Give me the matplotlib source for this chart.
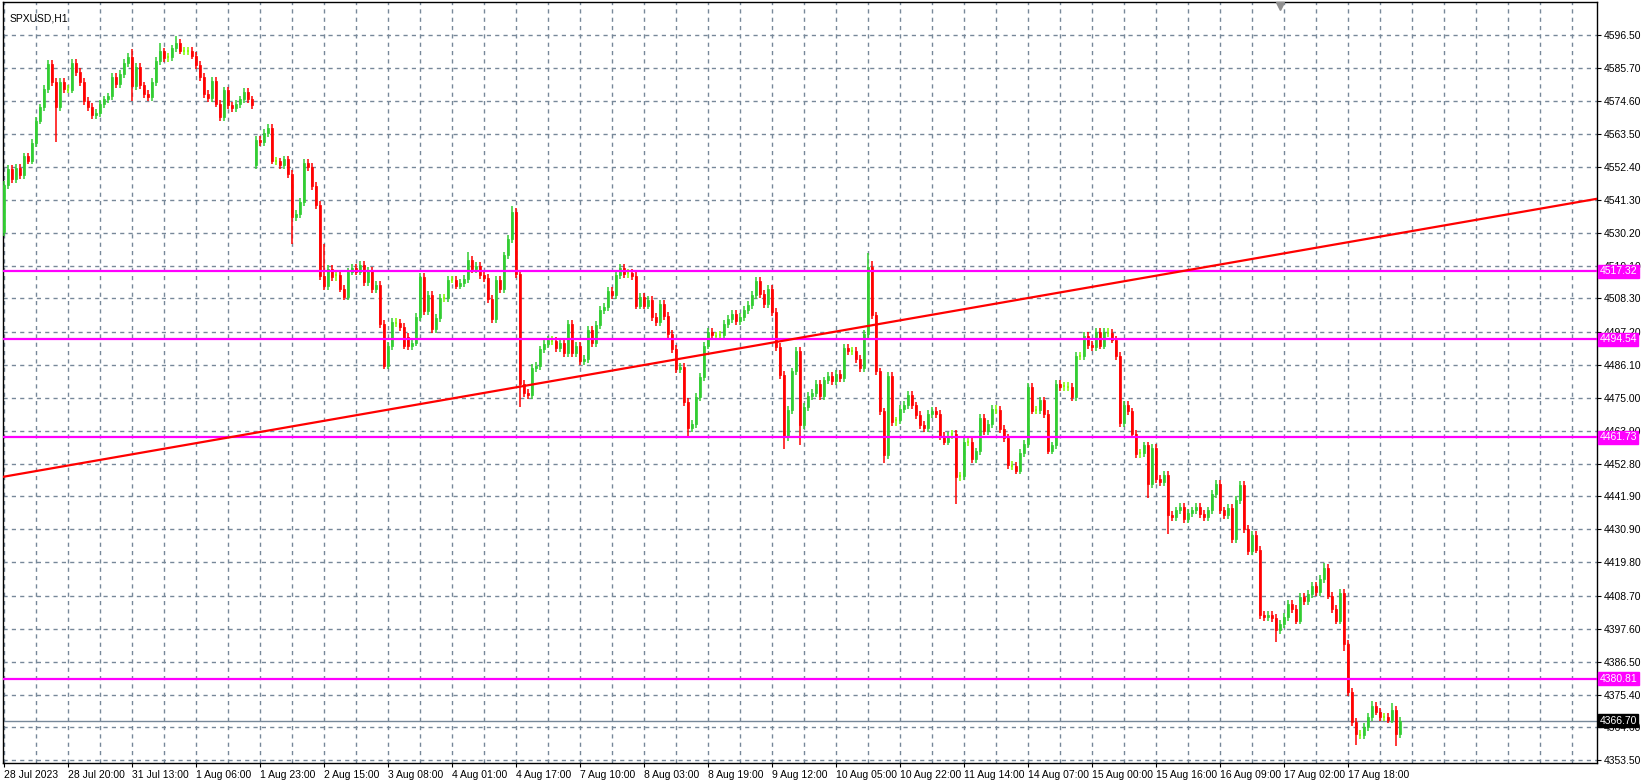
import matplotlib
matplotlib.use("Agg")
import matplotlib.pyplot as plt
from matplotlib.patches import Rectangle
from matplotlib.collections import PatchCollection, LineCollection

plt.rcParams['font.family'] = ['Liberation Sans', 'DejaVu Sans']

symbol = "SPXUSD,H1"
closes = [
4546.2,4551.8,4548.3,4551.9,4549.7,4555.9,4554.5,4560.4,4567.9,4572.3,
4578.6,4587.0,4580.8,4572.4,4580.8,4578.6,4578.3,4587.3,4584.2,4580.8,
4574.4,4572.4,4569.7,4570.4,4573.5,4575.0,4576.0,4582.5,4580.3,4583.6,
4587.3,4589.3,4579.5,4585.8,4579.7,4576.9,4575.7,4580.8,4588.0,4591.1,
4588.8,4589.1,4592.1,4593.9,4591.4,4591.1,4591.4,4589.7,4586.6,4582.5,
4576.9,4575.4,4581.3,4573.6,4569.1,4578.0,4573.0,4572.0,4573.5,4575.0,
4577.4,4575.0,4573.1,4561.5,4560.7,4563.8,4565.3,4554.5,4554.2,4552.9,
4554.9,4550.0,4535.5,4536.6,4540.6,4553.7,4552.3,4545.9,4539.5,4515.9,
4512.5,4518.2,4515.5,4516.0,4511.6,4508.9,4517.3,4518.4,4517.3,4519.6,
4513.7,4517.6,4511.4,4512.8,4499.8,4485.8,4492.3,4500.5,4500.0,4498.8,
4492.5,4492.4,4493.5,4502.0,4515.4,4504.2,4509.5,4498.1,4501.7,4508.4,
4508.4,4514.6,4514.6,4512.6,4513.5,4514.9,4521.2,4518.2,4519.3,4516.0,
4515.1,4508.2,4501.4,4514.6,4511.5,4522.7,4528.1,4537.2,4516.5,4479.7,
4476.7,4476.0,4484.9,4485.6,4491.2,4493.1,4494.4,4493.9,4491.6,4493.4,
4490.1,4499.8,4490.1,4492.5,4487.2,4488.0,4497.6,4493.4,4499.4,4504.3,
4505.4,4510.8,4509.5,4516.2,4518.4,4516.5,4516.8,4515.8,4505.9,4508.7,
4505.9,4507.8,4502.1,4500.3,4506.5,4502.4,4496.4,4491.4,4484.7,4485.3,
4473.5,4464.8,4466.3,4475.2,4481.9,4492.5,4497.2,4495.9,4495.6,4496.0,
4499.8,4501.4,4503.1,4500.6,4502.0,4504.3,4506.1,4509.5,4514.3,4509.8,
4506.5,4511.5,4503.7,4491.9,4482.7,4461.8,4471.0,4483.8,4490.8,4465.7,
4471.8,4475.5,4476.6,4479.7,4475.7,4480.8,4482.2,4480.5,4483.0,4481.6,
4491.6,4490.5,4490.8,4488.0,4484.9,4496.4,4518.8,4502.6,4483.8,4470.4,
4455.9,4482.2,4466.8,4467.4,4471.3,4472.6,4476.0,4472.4,4469.1,4465.9,
4464.8,4469.6,4470.7,4469.6,4462.1,4460.3,4462.3,4462.9,4448.4,4448.7,
4460.1,4460.3,4454.5,4457.0,4468.2,4463.7,4466.3,4471.3,4470.9,4464.6,
4461.5,4452.5,4452.1,4450.6,4456.5,4459.6,4478.5,4470.7,4471.0,4474.1,
4469.6,4457.3,4459.0,4479.7,4478.5,4479.0,4478.5,4475.2,4488.9,4488.9,
4495.6,4492.7,4492.0,4497.0,4492.5,4497.2,4496.8,4494.5,4489.0,4466.6,
4472.6,4470.4,4462.9,4456.2,4456.5,4459.0,4446.2,4458.1,4447.8,4446.7,
4449.2,4435.8,4435.0,4437.2,4438.3,4434.4,4436.4,4437.2,4438.3,4436.1,
4435.0,4437.2,4442.8,4446.2,4437.2,4435.8,4438.0,4427.5,4440.6,4445.8,
4431.1,4423.5,4429.1,4424.1,4402.2,4401.5,4402.3,4401.1,4397.0,4399.2,
4401.4,4405.9,4404.2,4400.3,4408.2,4406.7,4409.3,4411.8,4409.8,4414.3,
4417.9,4408.7,4404.2,4400.3,4409.6,4392.5,4376.3,4366.3,4362.3,4362.0,
4364.6,4367.9,4371.6,4369.8,4367.9,4367.9,4367.1,4370.2,4362.3,4366.7]
gap_opens = {0: 4530.5, 63: 4553.1, 101: 4495.5}
highs_override = {32: 4592.0, 39: 4594.0, 43: 4596.3, 80: 4526.6, 127: 4539.2, 128: 4538.5,
                  216: 4523.5, 217: 4521.0, 342: 4373.5, 347: 4372.5, 330: 4419.5, 116: 4524.0}
lows_override = {13: 4560.6, 32: 4574.5, 72: 4526.5, 129: 4471.8, 171: 4461.5, 195: 4457.9,
                 199: 4459.0, 220: 4453.0, 238: 4439.4, 286: 4441.5, 291: 4429.4, 318: 4393.0,
                 335: 4390.0, 338: 4358.5, 348: 4358.3}
wick = 1.3
level_lines = [4517.32, 4494.54, 4461.73, 4380.81]
last_price = 4366.70
trend_pts = [(99, 4471.7), (214, 4498.6)]
ytick_vals = [4596.50,4585.70,4574.60,4563.50,4552.40,4541.30,4530.20,4519.10,4508.30,4497.20,
              4486.10,4475.00,4463.90,4452.80,4441.90,4430.90,4419.80,4408.70,4397.60,4386.50,
              4375.40,4364.60,4353.50]
xtick_labels = ["28 Jul 2023","28 Jul 20:00","31 Jul 13:00","1 Aug 06:00","1 Aug 23:00",
                "2 Aug 15:00","3 Aug 08:00","4 Aug 01:00","4 Aug 17:00","7 Aug 10:00",
                "8 Aug 03:00","8 Aug 19:00","9 Aug 12:00","10 Aug 05:00","10 Aug 22:00",
                "11 Aug 14:00","14 Aug 07:00","15 Aug 00:00","15 Aug 16:00","16 Aug 09:00",
                "17 Aug 02:00","17 Aug 18:00"]

W, H = 1644, 780
fig = plt.figure(figsize=(W/100, H/100), dpi=100)
fig.patch.set_facecolor("white")
ax = fig.add_axes([3/W, (H-763)/H, (1597-3)/W, (763-2)/H])
ax.set_facecolor("white")

n = len(closes)
opens = [gap_opens.get(i, closes[i-1] if i > 0 else closes[0]) for i in range(n)]
bw = 0.6
up_rects, dn_rects, up_w, dn_w, dj_w = [], [], [], [], []
for i in range(n):
    o, c = opens[i], closes[i]
    hi = highs_override.get(i, max(o, c) + wick)
    lo = lows_override.get(i, min(o, c) - wick)
    seg = [(i, lo), (i, hi)]
    if abs(c - o) < 0.6:
        dj_w.append(seg)
        dj_w.append([(i - bw/2, c), (i + bw/2, c)])
    elif c > o:
        up_w.append(seg); up_rects.append(Rectangle((i - bw/2, o), bw, c - o))
    else:
        dn_w.append(seg); dn_rects.append(Rectangle((i - bw/2, c), bw, o - c))
ax.add_collection(LineCollection(up_w, colors="#32CD32", linewidths=1.1, zorder=3))
ax.add_collection(LineCollection(dn_w, colors="#FF0000", linewidths=1.1, zorder=3))
ax.add_collection(LineCollection(dj_w, colors="#7CFC00", linewidths=1.1, zorder=3))
ax.add_collection(PatchCollection(up_rects, facecolor="#32CD32", edgecolor="#32CD32", linewidth=0.5, zorder=3))
ax.add_collection(PatchCollection(dn_rects, facecolor="#FF0000", edgecolor="#FF0000", linewidth=0.5, zorder=3))

y_top = 4596.5 + (35.3 - 2) / 2.983
y_bot = 4596.5 - (763 - 35.3) / 2.983
ax.set_ylim(y_bot, y_top)
ax.set_xlim(-0.25, 398.25)

for yv in ytick_vals:
    ax.axhline(yv, color="#778899", lw=1, ls=(0, (3, 3)), zorder=1)
for k in range(0, 400, 8):
    ax.axvline(k, color="#778899", lw=1, ls=(0, (3, 3)), zorder=1)

for lv in level_lines:
    ax.axhline(lv, color="#FF00FF", lw=1.6, zorder=4)
ax.axhline(last_price, color="#778899", lw=1, zorder=2)
(x1, y1), (x2, y2) = trend_pts
ax.axline((x1, y1), (x2, y2), color="#FF0000", lw=1.6, zorder=4)

ax.yaxis.tick_right()
ax.set_yticks(ytick_vals)
ax.set_yticklabels([f"{v:.2f}" for v in ytick_vals], fontsize=7.5)
ax.set_xticks([16*k for k in range(len(xtick_labels))])
ax.set_xticklabels(xtick_labels, fontsize=7.5)
for lb in ax.get_xticklabels():
    lb.set_horizontalalignment("left")
ax.tick_params(axis="both", length=3, width=0.8, color="black", pad=2)
for s in ax.spines.values():
    s.set_linewidth(1.0)
    s.set_color("black")

tr = ax.get_yaxis_transform()
for lv in level_lines:
    ax.text(1.0015, lv, f"{lv:.2f}", transform=tr, fontsize=7.5, color="white", va="center", ha="left",
            bbox=dict(boxstyle="square,pad=0.15", fc="#FF00FF", ec="#FF00FF"), zorder=6, clip_on=False)
ax.text(1.0015, last_price, f"{last_price:.2f}", transform=tr, fontsize=7.5, color="white", va="center",
        ha="left", bbox=dict(boxstyle="square,pad=0.15", fc="black", ec="black"), zorder=6, clip_on=False)

ax.text(0.004, 0.985, symbol, transform=ax.transAxes, fontsize=7.5, va="top", ha="left", color="black")
ax.plot([319], [y_top - 1.2], marker="v", color="#909090", ms=6, clip_on=False, zorder=6)

fig.savefig("out.png", dpi=100, facecolor="white")
